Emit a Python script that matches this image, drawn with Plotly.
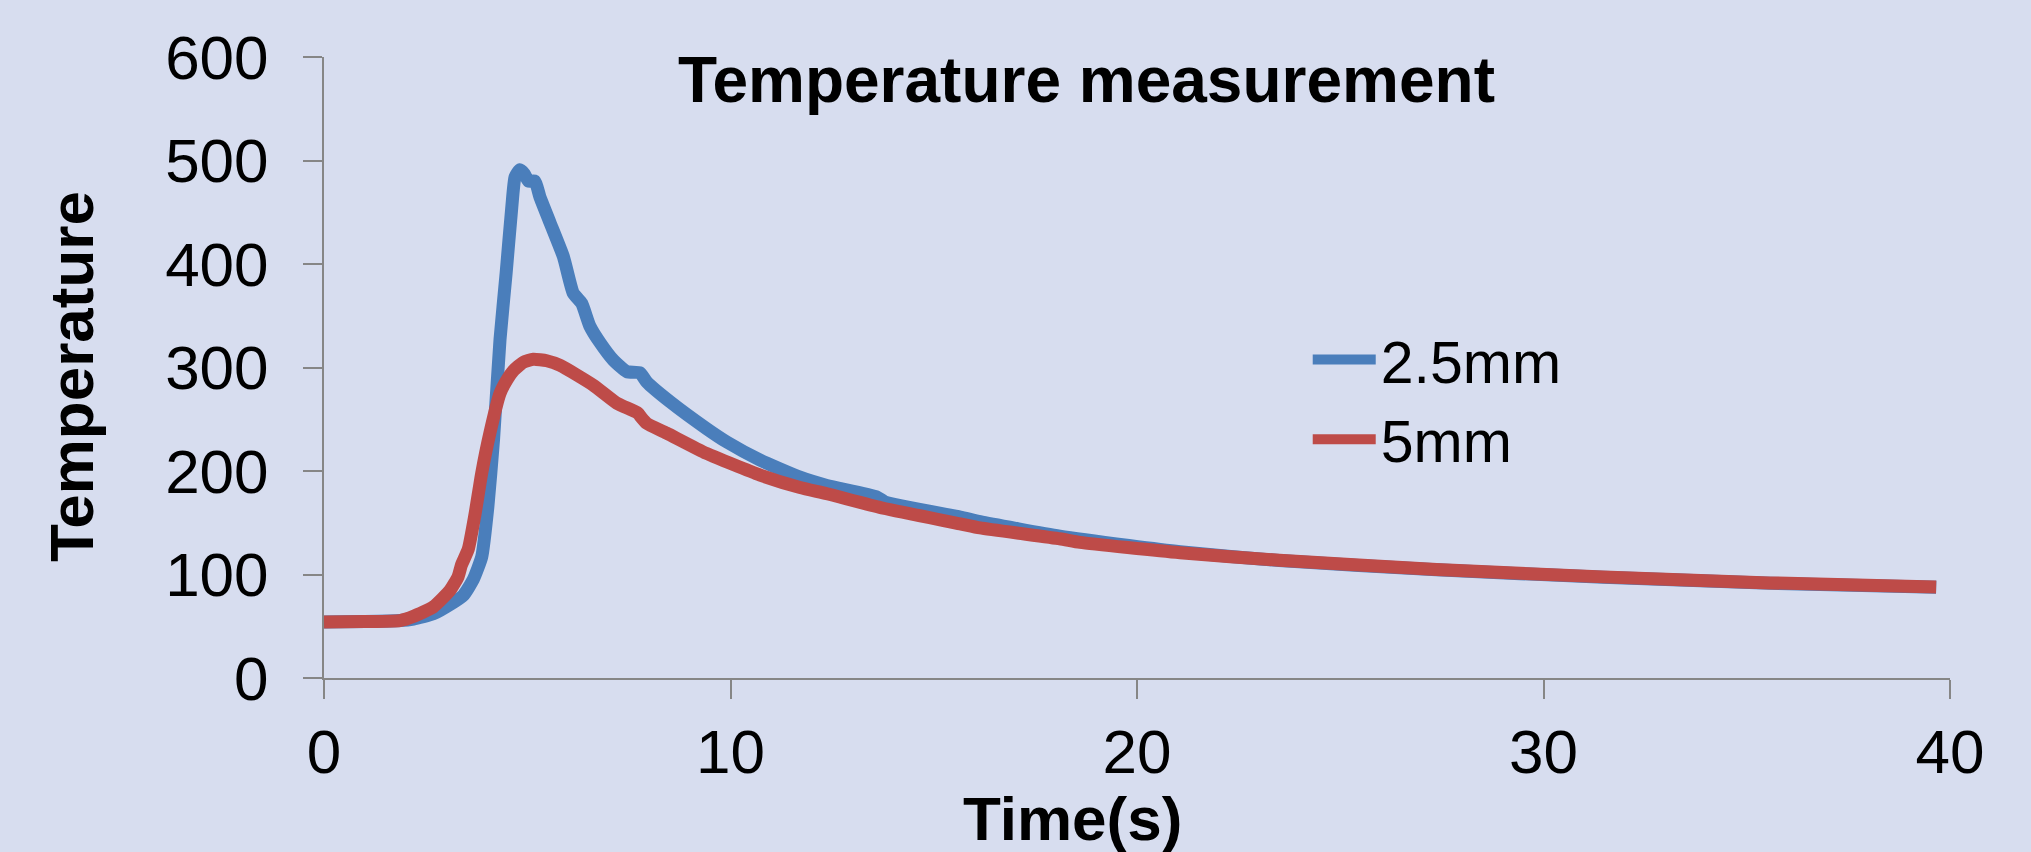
import plotly.graph_objects as go

# ---- data ----
time_25mm = [0, 1.0, 1.87, 2.2, 2.69, 3.1, 3.43, 3.67, 3.88, 4.03, 4.17, 4.33, 4.48, 4.62, 4.70,
             4.82, 4.93, 5.03, 5.19, 5.31, 5.56, 5.89, 6.13, 6.34, 6.54, 6.79, 7.12, 7.45, 7.77,
             7.94, 8.51, 9.41, 9.91, 10.73, 11.71, 12.37, 13.6, 13.8, 15.65, 16.14, 18.1,
             19.8, 21.06, 23.5, 27.37, 31.47, 35.57, 39.66]
temp_25mm = [54, 54.5, 55.5, 57, 62, 71, 80, 95, 117, 165, 230, 327, 391, 455, 484,
             491, 487, 480, 480, 465, 440, 407, 372, 362, 340, 324, 307, 296, 295,
             286, 267, 241, 228, 210.5, 194, 186, 175, 170, 155.5, 151, 137,
             128, 122, 113.5, 104.5, 97.4, 91.6, 87.7]

time_5mm = [0, 1.0, 1.87, 2.2, 2.69, 3.10, 3.30, 3.38, 3.55, 3.71, 3.88, 4.08, 4.33, 4.50, 4.66,
            4.90, 5.15, 5.48, 5.81, 6.62, 7.20, 7.72, 7.80, 7.94, 8.43, 9.41, 10.73, 11.71,
            12.37, 13.76, 15.65, 16.14, 18.1, 18.6, 21.06, 23.5, 27.37, 31.47, 35.57, 39.66]
temp_5mm = [54, 54.5, 55.5, 59.5, 68.7, 84.8, 98, 109, 124.6, 157, 198, 236.5, 275, 288, 297,
            305, 308, 306.5, 302, 283, 265.6, 256, 252, 246, 236.6, 217, 196, 184,
            178, 164, 149, 145, 134.5, 131, 121, 113.8, 104.8, 97.7, 91.9, 88]

series_names = ["2.5mm", "5mm"]
series_colors = ["#4A7EBB", "#BE4B48"]

x_ticks = [0, 10, 20, 30, 40]
y_ticks = [0, 100, 200, 300, 400, 500, 600]

FONT = "Liberation Sans, Arial, sans-serif"
BG = "#D7DDEF"
AX = "#868686"

fig = go.Figure()
fig.add_trace(go.Scatter(x=time_25mm, y=temp_25mm, mode="lines", name=series_names[0],
                         line=dict(color=series_colors[0], width=13, shape="spline",
                                   smoothing=0.5)))
fig.add_trace(go.Scatter(x=time_5mm, y=temp_5mm, mode="lines", name=series_names[1],
                         line=dict(color=series_colors[1], width=13, shape="spline",
                                   smoothing=0.5)))

fig.update_layout(
    width=2031, height=852,
    margin=dict(l=324, r=81, t=57, b=174),
    paper_bgcolor=BG, plot_bgcolor=BG,
    font=dict(family=FONT, size=62, color="black"),
    title=dict(text="<b>Temperature measurement</b>", font=dict(size=64),
               x=1086.5 / 2031, xanchor="center", xref="container",
               y=1 - 80 / 852, yanchor="middle", yref="container"),
    showlegend=True,
    legend=dict(x=0.605, y=0.585, xanchor="left", yanchor="top",
                bgcolor="rgba(0,0,0,0)", font=dict(size=59), itemwidth=63,
                tracegroupgap=0),
    xaxis=dict(range=[0, 40], tickvals=x_ticks, ticks="outside", ticklen=19, tickwidth=1.5,
               tickcolor=AX, showline=True, linecolor=AX, linewidth=2, showgrid=False,
               zeroline=False, tickfont=dict(size=62)),
    yaxis=dict(range=[0, 600], tickvals=y_ticks, ticks="outside", ticklen=19, tickwidth=1.5,
               tickcolor=AX, showline=True, linecolor=AX, linewidth=2, showgrid=False,
               zeroline=False, tickfont=dict(size=62), ticklabelstandoff=22),
    annotations=[
        dict(text="<b>Temperature</b>", textangle=-90, xref="paper", yref="paper",
             x=(71 - 324) / 1626, y=(677.7 - 377) / 620.4, xanchor="center", yanchor="middle",
             showarrow=False, font=dict(size=62)),
        dict(text="<b>Time(s)</b>", xref="paper", yref="paper",
             x=(1072 - 324) / 1626, y=(677.7 - 818) / 620.4, xanchor="center", yanchor="middle",
             showarrow=False, font=dict(size=62)),
    ],
)

fig.write_html("out.html")
